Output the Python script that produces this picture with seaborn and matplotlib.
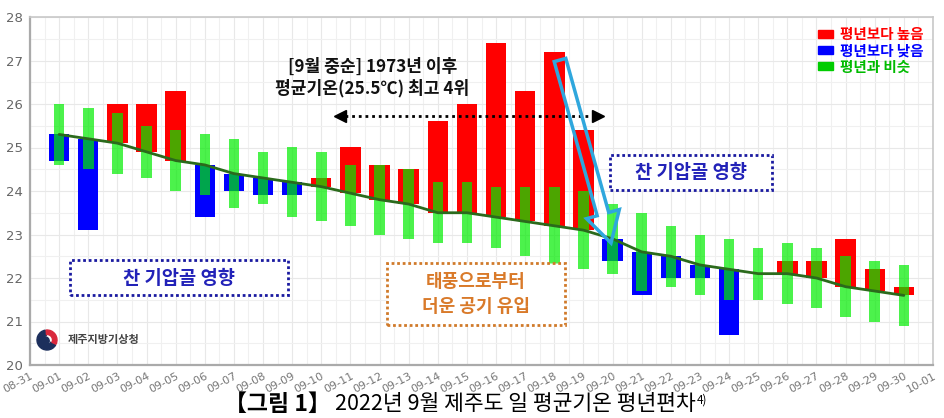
import numpy as np
import pandas as pd
import matplotlib
matplotlib.use("Agg")
import matplotlib.pyplot as plt
import matplotlib.patches as mpatches
import matplotlib.transforms as mtransforms
from matplotlib.patches import Patch
import seaborn as sns

sns.set_theme(style="whitegrid")
plt.rcParams['font.family'] = ['Noto Sans CJK KR', 'DejaVu Sans']
plt.rcParams['axes.unicode_minus'] = False

# ---------------------------------------------------------
# data
# ---------------------------------------------------------
days = np.arange(1, 31)   # 09-01 .. 09-30
tick_labels = pd.date_range("2022-08-31", "2022-10-01").strftime("%m-%d").tolist()

normal = [25.3, 25.2, 25.1, 24.9, 24.7, 24.6, 24.4, 24.3, 24.2, 24.1,
          23.95, 23.8, 23.7, 23.5, 23.5, 23.4, 23.3, 23.2, 23.1, 22.9,
          22.6, 22.5, 22.3, 22.2, 22.1, 22.1, 22.0, 21.8, 21.7, 21.6]
actual = [24.7, 23.1, 26.0, 26.0, 26.3, 23.4, 24.0, 23.9, 23.9, 24.3,
          25.0, 24.6, 24.5, 25.6, 26.0, 27.4, 26.3, 27.2, 25.4, 22.4,
          21.6, 22.0, 22.0, 20.7, np.nan, 22.4, 22.4, 22.9, 22.2, 21.8]
similar_lo = [24.6, 24.5, 24.4, 24.3, 24.0, 23.9, 23.6, 23.7, 23.4, 23.3,
              23.2, 23.0, 22.9, 22.8, 22.8, 22.7, 22.5, 22.3, 22.2, 22.1,
              21.7, 21.8, 21.6, 21.5, 21.5, 21.4, 21.3, 21.1, 21.0, 20.9]
similar_hi = [26.0, 25.9, 25.8, 25.5, 25.4, 25.3, 25.2, 24.9, 25.0, 24.9,
              24.6, 24.6, 24.5, 24.2, 24.2, 24.1, 24.1, 24.1, 24.0, 23.7,
              23.5, 23.2, 23.0, 22.9, 22.7, 22.8, 22.7, 22.5, 22.4, 22.3]

legend_labels = ["평년보다 높음", "평년보다 낮음", "평년과 비슷"]

W, H = 944, 418


def px(x, y):
    # pixel position (from top-left) -> figure fraction
    return x / W, 1 - y / H


fig = plt.figure(figsize=(W / 100, H / 100), dpi=100)
ax = fig.add_axes([30 / W, 53 / H, 903 / W, 348 / H])
pix = mtransforms.Affine2D().scale(1 / W, 1 / H) + fig.transFigure

normal_a = np.array(normal)
actual_a = np.array(actual)
diff = actual_a - normal_a
has_bar = ~np.isnan(diff)
bar_colors = np.where(diff > 0, "#ff0000", "#0000ff")

# deviation bars (normal -> actual)
ax.bar(days[has_bar], diff[has_bar], bottom=normal_a[has_bar], width=0.7,
       color=bar_colors[has_bar], linewidth=0, zorder=2)

# "similar to normal" range
lo = np.array(similar_lo)
hi = np.array(similar_hi)
ax.bar(days, hi - lo, bottom=lo, width=0.36, color=(0.0, 0.93, 0.0),
       alpha=0.7, linewidth=0, zorder=3)

# normal line
sns.lineplot(x=days, y=normal, ax=ax, color="#2b6a1c", linewidth=2, zorder=4)

# axes styling
ax.set_xlim(0, 31)
ax.set_ylim(20, 28)
ax.set_xticks(np.arange(0, 32))
ax.set_xticklabels(tick_labels, rotation=28, ha="right", rotation_mode="anchor",
                   fontsize=8, color="#777777", family="DejaVu Sans")
ax.set_yticks(np.arange(20, 29))
ax.set_yticklabels([str(v) for v in range(20, 29)], fontsize=9.5, color="#666666",
                   family="DejaVu Sans")
ax.set_xticks(np.arange(0.5, 31, 1), minor=True)
ax.set_yticks(np.arange(20.5, 28, 1), minor=True)
ax.grid(True, which="major", color="#e8e8e8", linewidth=0.8)
ax.grid(True, which="minor", color="#f0f0f0", linewidth=0.8)
ax.set_axisbelow(True)
ax.tick_params(axis="both", which="major", length=3, width=1, color="#999999", pad=2)
ax.tick_params(axis="both", which="minor", length=0)
ax.tick_params(axis="x", pad=1)
for s in ["top", "right"]:
    ax.spines[s].set_color("#c8c8c8")
    ax.spines[s].set_linewidth(1.2)
for s in ["left", "bottom"]:
    ax.spines[s].set_color("#aaaaaa")
    ax.spines[s].set_linewidth(1.6)
ax.set_xlabel("")
ax.set_ylabel("")

# legend
handles = [Patch(color="#ff0000"), Patch(color="#0000ff"), Patch(color="#00cc00")]
leg = ax.legend(handles, legend_labels, loc="upper right", frameon=False,
                handlelength=1.0, handleheight=0.5, handletextpad=0.5,
                labelspacing=0.0, borderaxespad=0.25,
                labelcolor=["#ff0000", "#0000ff", "#00bb00"],
                prop={"size": 10.5, "weight": "bold"})

# headline annotation
ax.text(11.75, 26.6, "[9월 중순] 1973년 이후\n평균기온(25.5℃) 최고 4위", ha="center",
        va="center", fontsize=12.3, fontweight="bold", color="#111111",
        linespacing=1.2, zorder=6)

# dotted double arrow over mid-September
ax.plot([10.8, 19.4], [25.72, 25.72], linestyle=(0, (1, 1.4)), color="black",
        linewidth=2, zorder=6)
ax.plot([10.65], [25.72], marker="<", color="black", markersize=8, zorder=6)
ax.plot([19.5], [25.72], marker=">", color="black", markersize=8, zorder=6)

# hollow light-blue arrow pointing at 09-20 (pixel coordinates)
tail = (560, H - 60)
tip = (611, H - 243)
arrow = mpatches.FancyArrow(tail[0], tail[1], tip[0] - tail[0], tip[1] - tail[1],
                            width=12, head_width=34, head_length=30,
                            length_includes_head=True, transform=pix,
                            facecolor="none", edgecolor="#2fa7dd", linewidth=2.5,
                            zorder=7)
fig.patches.append(arrow)


# boxes with text
def box(x0, y0, x1, y1, color):
    fx0, fy1 = px(x0, y1)
    fx1, fy0 = px(x1, y0)
    rect = mpatches.Rectangle((fx0, fy1), fx1 - fx0, fy0 - fy1, transform=fig.transFigure,
                              fill=True, facecolor="white", edgecolor=color,
                              linestyle=(0, (1, 1)), linewidth=2, zorder=8)
    fig.patches.append(rect)


box(610, 155, 772, 190, "#1a1aa0")
fig.text(*px(691, 173), "찬 기압골 영향", ha="center", va="center", fontsize=13.5,
         fontweight="bold", color="#2222b8", zorder=9)

box(70, 260, 288, 295, "#1a1aa0")
fig.text(*px(179, 278), "찬 기압골 영향", ha="center", va="center", fontsize=13.5,
         fontweight="bold", color="#2222b8", zorder=9)

box(387, 263, 565, 325, "#d07a2a")
fig.text(*px(476, 294), "태풍으로부터\n더운 공기 유입", ha="center", va="center",
         fontsize=13, fontweight="bold", color="#d97a2a", linespacing=1.35, zorder=9)

# logo
lax = fig.add_axes([36 / W, 1 - 351 / H, 22 / W, 22 / H])
lax.set_aspect("equal")
lax.axis("off")
lax.set_xlim(-1.1, 1.1)
lax.set_ylim(-1.1, 1.1)
lax.add_patch(mpatches.Wedge((0, 0), 1, 100, 330, width=0.55, color="#1c2f5c"))
lax.add_patch(mpatches.Wedge((0, 0), 1, -25, 95, width=0.45, color="#d9283c"))
lax.add_patch(mpatches.Circle((-0.2, -0.1), 0.42, color="#1c2f5c"))
fig.text(*px(68, 340), "제주지방기상청", ha="left", va="center", fontsize=8,
         fontweight="bold", color="#444444")

# caption
cap1 = fig.text(*px(331, 404), "【그림 1】", ha="right", va="center", fontsize=16.5,
                fontweight="bold", color="black")
cap2 = fig.text(*px(335, 404), "2022년 9월 제주도 일 평균기온 평년편차", ha="left",
                va="center", fontsize=15.5, color="black")
fig.canvas.draw()
r = fig.canvas.get_renderer()
bb = cap2.get_window_extent(r)
fig.text(bb.x1 / W + 0.001, px(0, 400)[1], "4)", ha="left", va="center", fontsize=8.5,
         color="black")

fig.savefig("out.png", dpi=100)
plt.close(fig)
